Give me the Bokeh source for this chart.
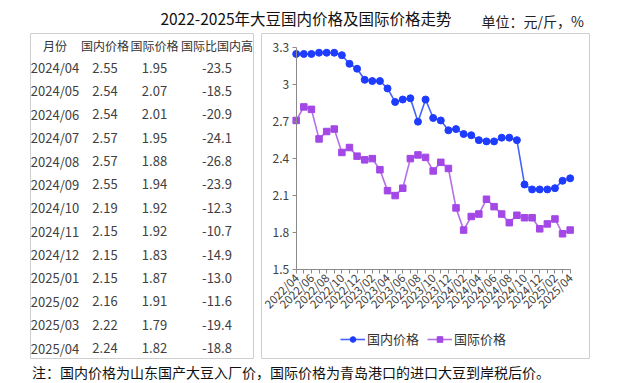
import math
from bokeh.plotting import figure
from bokeh.models import Range1d, LinearAxis, FixedTicker, Legend, LegendItem, Spacer
from bokeh.layouts import column, row
from bokeh.core.properties import value
from bokeh.embed import file_html
from bokeh.resources import INLINE

# ---------------- data ----------------
months = ["2022/04", "2022/05", "2022/06", "2022/07", "2022/08", "2022/09", "2022/10",
          "2022/11", "2022/12", "2023/01", "2023/02", "2023/03", "2023/04", "2023/05",
          "2023/06", "2023/07", "2023/08", "2023/09", "2023/10", "2023/11", "2023/12",
          "2024/01", "2024/02", "2024/03", "2024/04", "2024/05", "2024/06", "2024/07",
          "2024/08", "2024/09", "2024/10", "2024/11", "2024/12", "2025/01", "2025/02",
          "2025/03", "2025/04"]
domestic = [3.25, 3.25, 3.25, 3.26, 3.26, 3.26, 3.24, 3.17, 3.13, 3.04, 3.03, 3.03,
            2.97, 2.86, 2.88, 2.89, 2.70, 2.88, 2.73, 2.71, 2.63, 2.64, 2.60, 2.59,
            2.55, 2.54, 2.54, 2.57, 2.57, 2.55, 2.19, 2.15, 2.15, 2.15, 2.16, 2.22, 2.24]
international = [2.71, 2.82, 2.80, 2.56, 2.62, 2.64, 2.45, 2.49, 2.42, 2.39, 2.40, 2.31,
                 2.14, 2.10, 2.16, 2.40, 2.43, 2.41, 2.30, 2.37, 2.32, 2.00, 1.82, 1.93,
                 1.95, 2.07, 2.01, 1.95, 1.88, 1.94, 1.92, 1.92, 1.83, 1.87, 1.91, 1.79, 1.82]
ratio = [-23.5, -18.5, -20.9, -24.1, -26.8, -23.9, -12.3, -10.7, -14.9, -13.0, -11.6, -19.4, -18.8]
table_rows = 13
y_ticks = [1.5, 1.8, 2.1, 2.4, 2.7, 3.0, 3.3]
y_tick_labels = ["1.5", "1.8", "2.1", "2.4", "2.7", "3", "3.3"]
headers = ["月份", "国内价格", "国际价格", "国际比国内高"]
series_names = ["国内价格", "国际价格"]
title_text = "2022-2025年大豆国内价格及国际价格走势"
unit_text = "单位：元/斤，%"
note_text = "注：国内价格为山东国产大豆入厂价，国际价格为青岛港口的进口大豆到岸税后价。"

FONT_NAME = "Noto Sans CJK SC"
FONT = value(FONT_NAME)
BLUE, BLUE_LINE = "#1E3CFF", "#4562FA"
PURPLE, PURPLE_LINE = "#A347E6", "#B56FE8"
BOX = "#CFCFCF"


def blank(w, h, xr, yr, border=0):
    f = figure(width=w, height=h, x_range=xr, y_range=yr, output_backend="svg",
               toolbar_location=None, x_axis_type=None, y_axis_type=None,
               min_border=border, outline_line_color=None)
    f.background_fill_color = "white"
    f.border_fill_color = "white"
    return f


# ---------------- title strip (page y 0..32) ----------------
t = blank(618, 32, Range1d(0, 618), Range1d(32, 0))
t.text(x=[305.5], y=[17], text=[title_text], text_align="center", text_baseline="middle",
       text_font=FONT, text_font_size=value("15.5px"), text_color="#111111")
t.text(x=[481], y=[20.5], text=[unit_text], text_align="left", text_baseline="middle",
       text_font=FONT, text_font_size=value("14px"), text_color="#222222")

# ---------------- table (page x 29..254, y 32..359) ----------------
tw, th = 225, 327
tb = blank(tw, th, Range1d(30, 253), Range1d(358, 33), border=1)
tb.outline_line_color = BOX
tb.outline_line_width = 1
col_x = [54.5, 104.5, 154, 216.5]
tb.text(x=col_x, y=[44.5] * 4, text=headers, text_align="center", text_baseline="middle",
        text_font=FONT, text_font_size=value("12px"), text_color="#333333")
n0 = len(months) - table_rows
row_y = [67 + i * 23.38 for i in range(table_rows)]
cols = [months[n0:],
        ["%.2f" % v for v in domestic[n0:]],
        ["%.2f" % v for v in international[n0:]],
        ["%.1f" % v for v in ratio]]
for cx, texts in zip(col_x, cols):
    tb.text(x=[cx] * table_rows, y=row_y, text=texts, text_align="center",
            text_baseline="middle", text_font=FONT, text_font_size=value("13px"),
            text_color="#404040")

# ---------------- chart (page x 260..590, y 32..359) ----------------
cw, ch = 330, 327
p = figure(width=cw, height=ch, x_range=Range1d(-4.56, 38.54), y_range=Range1d(0.777, 3.416),
           output_backend="svg", toolbar_location=None, x_axis_type=None, y_axis_type=None,
           min_border=1)
p.outline_line_color = BOX
p.outline_line_width = 1
p.grid.visible = False
xs = list(range(len(months)))

xaxis = LinearAxis(fixed_location=1.5, bounds=(0, len(months) - 1),
                   ticker=FixedTicker(ticks=xs),
                   major_label_overrides={i: (months[i] if i % 2 == 0 else "") for i in xs},
                   major_label_orientation=math.pi / 4)
yaxis = LinearAxis(fixed_location=0, bounds=(y_ticks[0], y_ticks[-1]),
                   ticker=FixedTicker(ticks=y_ticks),
                   major_label_overrides=dict(zip(y_ticks, y_tick_labels)))
for ax in (xaxis, yaxis):
    ax.axis_line_color = "#8A8A8A"
    ax.major_tick_line_color = "#8A8A8A"
    ax.major_tick_in = 0
    ax.major_tick_out = 4
    ax.minor_tick_out = 0
    ax.minor_tick_in = 0
    ax.major_label_text_font = FONT_NAME
    ax.major_label_text_color = "#404040"
xaxis.major_label_text_font_size = "11.5px"
xaxis.major_label_standoff = 2
yaxis.major_label_text_font_size = "12px"
yaxis.major_label_standoff = 3
p.add_layout(xaxis, "below")
p.add_layout(yaxis, "left")

l1 = p.line(xs, domestic, color=BLUE_LINE, line_width=1.6)
s1 = p.scatter(xs, domestic, marker="circle", size=7, color=BLUE)
l2 = p.line(xs, international, color=PURPLE_LINE, line_width=1.6)
s2 = p.scatter(xs, international, marker="square", size=6.5, color=PURPLE)

legend = Legend(items=[LegendItem(label=series_names[0], renderers=[l1, s1]),
                       LegendItem(label=series_names[1], renderers=[l2, s2])],
                orientation="horizontal", location=(79, 10), padding=0, margin=0,
                spacing=8, glyph_width=25, glyph_height=14, label_standoff=2,
                label_text_font=FONT_NAME, label_text_font_size="13px",
                label_text_color="#333333", border_line_color=None,
                background_fill_alpha=0)
p.add_layout(legend)

# ---------------- footnote (page y 359..383) ----------------
fn = blank(618, 24, Range1d(0, 618), Range1d(383, 359))
fn.text(x=[31.5], y=[371], text=[note_text], text_align="left", text_baseline="middle",
        text_font=FONT, text_font_size=value("14px"), text_color="#111111")

layout = column(t,
                row(Spacer(width=29, height=th), tb, Spacer(width=6, height=th), p),
                fn)

open("out.html", "w").write(file_html(layout, INLINE))
